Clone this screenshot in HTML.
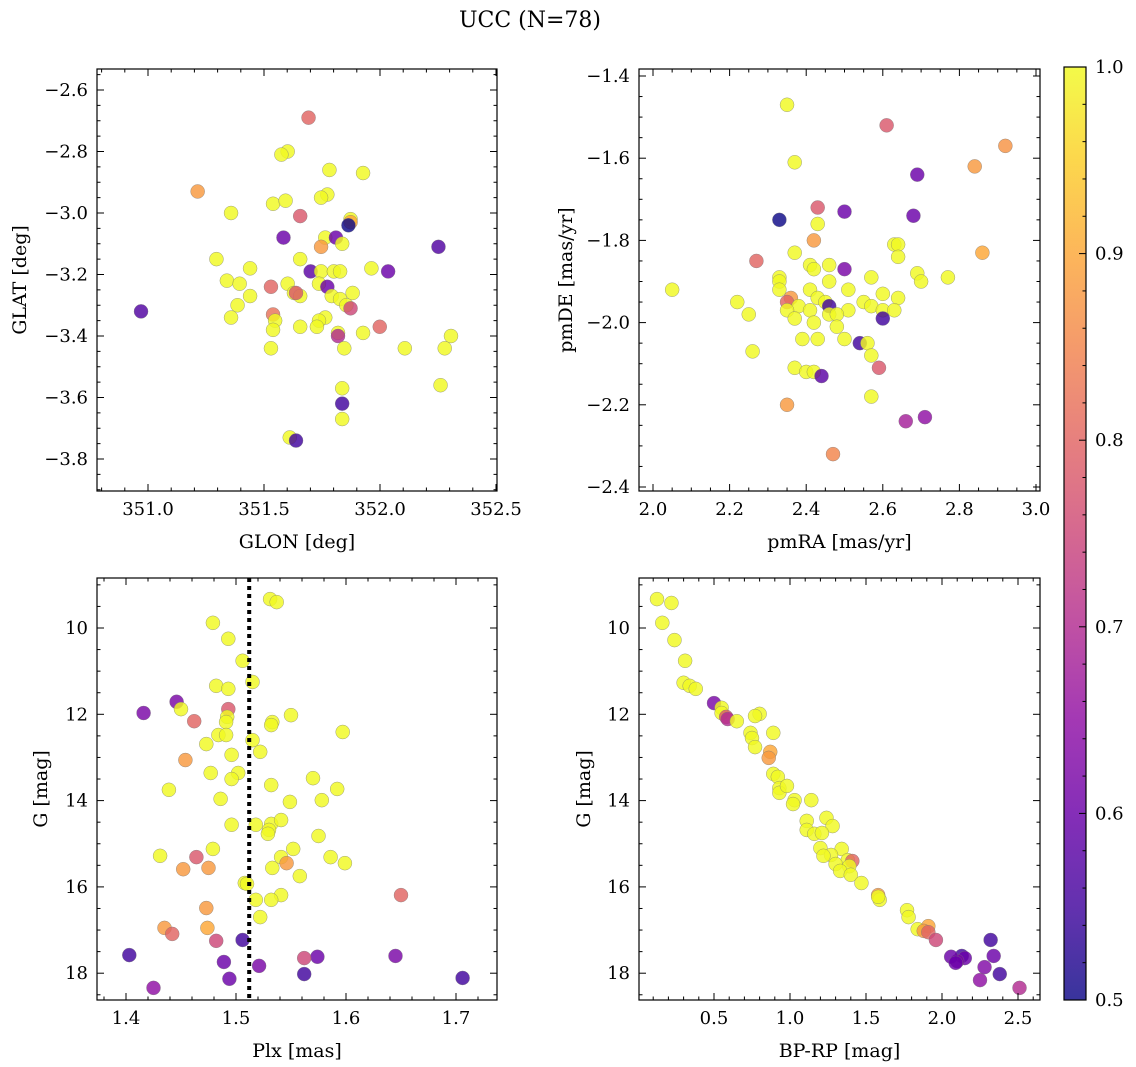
<!DOCTYPE html>
<html><head><meta charset="utf-8">
<style>
html,body{margin:0;padding:0;background:#fff;}
svg{display:block;font-family:"DejaVu Serif","Liberation Serif",serif;}
</style></head>
<body>
<svg id="fig" width="1136" height="1067" viewBox="0 0 1136 1067" xmlns="http://www.w3.org/2000/svg">
<text x="530" y="27" font-size="22" text-anchor="middle">UCC (N=78)</text>
</svg>
<script>
// ---- Panel 1: GLON / GLAT ----
const glon = [351.692,351.214,351.602,351.575,351.782,351.927,351.358,351.539,351.593,351.773,351.746,351.873,351.873,351.864,351.656,351.584,351.764,351.810,351.746,351.837,352.252,351.295,351.656,351.440,351.963,352.035,351.701,351.746,351.801,351.828,351.340,351.395,351.602,351.530,351.737,351.773,351.629,351.882,351.656,351.638,351.792,351.828,351.440,351.386,351.855,351.873,350.970,351.539,351.548,351.358,351.764,351.737,351.728,351.539,351.656,351.819,351.819,351.999,351.927,352.306,351.530,351.846,352.107,352.279,351.837,352.261,351.837,351.837,351.611,351.638];
const glat = [-2.69,-2.93,-2.80,-2.81,-2.86,-2.87,-3.00,-2.97,-2.96,-2.94,-2.95,-3.02,-3.03,-3.04,-3.01,-3.08,-3.08,-3.08,-3.11,-3.10,-3.11,-3.15,-3.15,-3.18,-3.18,-3.19,-3.19,-3.19,-3.19,-3.19,-3.22,-3.23,-3.23,-3.24,-3.23,-3.24,-3.26,-3.26,-3.27,-3.26,-3.27,-3.28,-3.27,-3.30,-3.30,-3.31,-3.32,-3.33,-3.35,-3.34,-3.34,-3.35,-3.37,-3.38,-3.37,-3.39,-3.40,-3.37,-3.39,-3.40,-3.44,-3.44,-3.44,-3.44,-3.57,-3.56,-3.62,-3.67,-3.73,-3.74];
const probPos = [0.8,0.88,1,1,1,1,1,1,1,1,1,1,0.9,0.5,0.78,0.6,1,0.6,0.88,1,0.57,1,1,1,1,0.6,0.58,1,1,1,1,1,1,0.8,1,0.6,1,1,1,0.78,1,1,1,1,1,0.75,0.57,0.82,1,1,1,1,1,1,1,1,0.7,0.8,1,1,1,1,1,1,1,1,0.55,1,1,0.55];
// ---- Panel 2: pmRA / pmDE ----
const pmra = [2.35,2.61,2.92,2.37,2.84,2.69,2.43,2.50,2.68,2.33,2.43,2.42,2.63,2.64,2.37,2.64,2.86,2.27,2.41,2.42,2.46,2.50,2.33,2.33,2.57,2.69,2.70,2.77,2.05,2.33,2.41,2.43,2.45,2.51,2.60,2.46,2.22,2.36,2.35,2.38,2.55,2.64,2.46,2.51,2.41,2.57,2.60,2.63,2.46,2.35,2.25,2.37,2.48,2.60,2.42,2.48,2.39,2.43,2.50,2.54,2.56,2.57,2.26,2.59,2.37,2.40,2.42,2.44,2.57,2.35,2.71,2.66,2.47];
const pmde = [-1.47,-1.52,-1.57,-1.61,-1.62,-1.64,-1.72,-1.73,-1.74,-1.75,-1.76,-1.80,-1.81,-1.81,-1.83,-1.84,-1.83,-1.85,-1.86,-1.87,-1.86,-1.87,-1.89,-1.90,-1.89,-1.88,-1.90,-1.89,-1.92,-1.92,-1.92,-1.94,-1.95,-1.92,-1.93,-1.90,-1.95,-1.94,-1.95,-1.96,-1.95,-1.94,-1.96,-1.97,-1.97,-1.96,-1.97,-1.97,-1.98,-1.97,-1.98,-1.99,-1.98,-1.99,-2.00,-2.01,-2.04,-2.04,-2.04,-2.05,-2.05,-2.08,-2.07,-2.11,-2.11,-2.12,-2.12,-2.13,-2.18,-2.20,-2.23,-2.24,-2.32];
const probPm = [1,0.78,0.87,1,0.88,0.6,0.78,0.6,0.6,0.5,1,0.88,1,1,1,1,0.9,0.8,1,1,1,0.62,1,1,1,1,1,1,1,1,1,1,1,1,1,1,1,0.88,0.8,1,1,1,0.55,1,1,1,1,1,1,1,1,1,1,0.55,1,1,1,1,1,0.55,1,1,1,0.78,1,1,1,0.58,1,0.88,0.65,0.68,0.85];
// ---- Panel 3: Plx / G ----
const plx = [1.531,1.537,1.479,1.493,1.506,1.515,1.482,1.493,1.446,1.450,1.416,1.462,1.493,1.492,1.491,1.550,1.533,1.532,1.597,1.484,1.491,1.473,1.515,1.522,1.496,1.454,1.502,1.477,1.570,1.496,1.532,1.592,1.439,1.486,1.578,1.549,1.496,1.518,1.532,1.541,1.530,1.529,1.575,1.479,1.431,1.552,1.541,1.464,1.586,1.546,1.599,1.452,1.475,1.533,1.558,1.508,1.510,1.541,1.650,1.518,1.532,1.473,1.522,1.435,1.474,1.442,1.482,1.506,1.403,1.574,1.562,1.645,1.489,1.521,1.562,1.494,1.425,1.706];
const gPlx = [9.33,9.40,9.88,10.25,10.76,11.25,11.34,11.41,11.71,11.88,11.97,12.16,11.88,12.06,12.18,12.02,12.18,12.25,12.41,12.48,12.48,12.69,12.60,12.87,12.94,13.06,13.36,13.36,13.48,13.50,13.64,13.73,13.75,13.96,13.99,14.03,14.56,14.56,14.54,14.45,14.68,14.77,14.82,15.12,15.28,15.12,15.31,15.31,15.31,15.45,15.45,15.59,15.56,15.56,15.75,15.91,15.93,16.19,16.19,16.30,16.30,16.49,16.70,16.95,16.95,17.09,17.25,17.23,17.58,17.62,17.65,17.60,17.74,17.83,18.02,18.13,18.34,18.11];
const probPlx = [1,1,1,1,1,1,1,1,0.62,1,0.62,0.8,0.78,1,1,1,1,1,1,1,1,1,1,1,1,0.88,1,1,1,1,1,1,1,1,1,1,1,1,1,1,1,1,1,1,1,1,1,0.78,1,0.88,1,0.88,0.88,1,1,1,1,1,0.8,1,1,0.88,1,0.88,0.9,0.8,0.75,0.55,0.55,0.6,0.75,0.62,0.6,0.62,0.55,0.6,0.65,0.55];
const plxMedian = [1.512];
// ---- Panel 4: BP-RP / G ----
const bprp = [0.125,0.22,0.16,0.24,0.31,0.30,0.34,0.38,0.50,0.55,0.55,0.58,0.59,0.65,0.80,0.77,0.74,0.75,0.89,0.77,0.87,0.86,0.89,0.92,0.93,0.93,0.98,1.03,1.02,1.14,1.24,1.11,1.28,1.11,1.16,1.21,1.20,1.34,1.27,1.22,1.38,1.41,1.30,1.39,1.33,1.40,1.47,1.58,1.59,1.58,1.77,1.78,1.91,1.84,1.88,1.91,1.96,2.13,2.15,2.10,2.06,2.09,2.32,2.34,2.28,2.38,2.25,2.51];
const gCmd = [9.33,9.42,9.88,10.28,10.76,11.27,11.34,11.41,11.74,11.85,11.97,12.06,12.11,12.16,11.99,12.04,12.43,12.55,12.43,12.76,12.87,13.01,13.38,13.45,13.71,13.82,13.66,13.99,14.08,13.99,14.40,14.47,14.59,14.68,14.77,14.75,15.10,15.12,15.26,15.28,15.38,15.40,15.47,15.52,15.63,15.72,15.91,16.19,16.30,16.23,16.54,16.70,16.91,16.98,17.02,17.05,17.23,17.60,17.65,17.72,17.62,17.76,17.23,17.60,17.86,18.02,18.16,18.34];
const probCmd = [1,1,1,1,1,1,1,1,0.62,1,1,0.78,0.7,1,1,1,1,1,1,1,0.9,0.88,1,1,1,1,1,1,1,1,1,1,1,1,1,1,1,1,1,1,1,0.8,1,1,1,1,1,0.88,1,1,1,1,0.9,1,0.88,0.8,0.75,0.55,0.6,0.62,0.6,0.6,0.55,0.6,0.63,0.55,0.65,0.7];
// colorbar ticks
const cbTicks = [0.5,0.6,0.7,0.8,0.9,1.0];

const NS = 'http://www.w3.org/2000/svg';
const svg = document.getElementById('fig');
function mk(tag, attrs, parent){ const e=document.createElementNS(NS,tag); for(const k in attrs) e.setAttribute(k,attrs[k]); (parent||svg).appendChild(e); return e; }
const plasma=[[13,8,135],[65,4,157],[106,0,168],[143,13,164],[177,42,144],[204,71,120],[225,100,98],[242,132,75],[252,166,54],[252,206,37],[240,249,33]];
function cmap(p){ let t=Math.max(0,Math.min(1,(p-0.5)/0.5))*10; let i=Math.min(9,Math.floor(t)); let f=t-i; const a=plasma[i],b=plasma[i+1]; return 'rgb('+a.map((v,k)=>Math.round(v+(b[k]-v)*f)).join(',')+')'; }
function fmt(v,d){ return (v<0?'\u2212':'')+Math.abs(v).toFixed(d); }

function panel(cfg){
  const g=mk('g',{});
  
  
  const {L,T,R,B}=cfg;
  const sx=cfg.sx, sy=cfg.sy;
  const pts=mk('g',{},g);
  
  
  for(let i=0;i<cfg.xs.length;i++){
    const c=mk('circle',{cx:sx(cfg.xs[i]),cy:sy(cfg.ys[i]),r:7,fill:cmap(cfg.ps[i]),'fill-opacity':0.82,stroke:'#777','stroke-width':0.5,'stroke-opacity':0.7},pts);
    
    
  }
  if(cfg.extra) cfg.extra(g,sx,sy);
  const fr=mk('rect',{x:L,y:T,width:R-L,height:B-T,fill:'none',stroke:'#000','stroke-width':1.2},g);
  
  
  const xa=mk('g',{},g);
  
  
  for(let v=cfg.xminor[0]; v<=cfg.xminor[1]+1e-9; v+=cfg.xminor[2]){
    const x=sx(v); if(x<L-0.5||x>R+0.5) continue;
    const isMaj=Math.abs(Math.round(v/cfg.xmaj)*cfg.xmaj-v)<1e-6;
    const len=isMaj?7:3.5;
    mk('line',{x1:x,x2:x,y1:B,y2:B-len,stroke:'#000','stroke-width':1},xa);
    mk('line',{x1:x,x2:x,y1:T,y2:T+len,stroke:'#000','stroke-width':1},xa);
    if(isMaj){ const t=mk('text',{x:x,y:B+24,'font-size':18,'text-anchor':'middle'},xa); t.textContent=fmt(v,cfg.xd);
        }
  }
  for(let v=cfg.yminor[0]; v<=cfg.yminor[1]+1e-9; v+=cfg.yminor[2]){
    const y=sy(v); if(y<T-0.5||y>B+0.5) continue;
    const isMaj=Math.abs(Math.round(v/cfg.ymaj)*cfg.ymaj-v)<1e-6;
    const len=isMaj?7:3.5;
    mk('line',{x1:L,x2:L+len,y1:y,y2:y,stroke:'#000','stroke-width':1},xa);
    mk('line',{x1:R,x2:R-len,y1:y,y2:y,stroke:'#000','stroke-width':1},xa);
    if(isMaj){ const t=mk('text',{x:L-9,y:y+6,'font-size':18,'text-anchor':'end'},xa); t.textContent=fmt(v,cfg.yd);
        }
  }
  const xl=mk('text',{x:(L+R)/2,y:B+57,'font-size':19,'text-anchor':'middle'},g); xl.textContent=cfg.xlabel;
   
  const yl=mk('text',{x:0,y:0,'font-size':19,'text-anchor':'middle',transform:'translate('+cfg.ylx+','+(T+B)/2+') rotate(-90)'},g); yl.textContent=cfg.ylabel;
   
}

const gy = v=>628+(v-10)*43.15;
panel({name:'glon-glat-panel',L:97,T:69,R:497,B:491,sx:v=>148+(v-351)*232,sy:v=>90+(-2.6-v)*307.5,
  xs:glon,ys:glat,ps:probPos,xminor:[350.8,352.6,0.1],xmaj:0.5,xd:1,yminor:[-3.9,-2.5,0.05],ymaj:0.2,yd:1,
  xlabel:'GLON [deg]',ylabel:'GLAT [deg]',ylx:26});
panel({name:'proper-motion-panel',L:639,T:69,R:1040,B:491,sx:v=>653+(v-2)*383,sy:v=>76+(-1.4-v)*411,
  xs:pmra,ys:pmde,ps:probPm,xminor:[1.95,3.05,0.05],xmaj:0.2,xd:1,yminor:[-2.45,-1.35,0.05],ymaj:0.2,yd:1,
  xlabel:'pmRA [mas/yr]',ylabel:'pmDE [mas/yr]',ylx:572});
panel({name:'plx-g-panel',L:97,T:578,R:497,B:1000,sx:v=>126+(v-1.4)*1100,sy:gy,
  xs:plx,ys:gPlx,ps:probPlx,xminor:[1.38,1.72,0.02],xmaj:0.1,xd:1,yminor:[9,18.5,0.5],ymaj:2,yd:0,
  xlabel:'Plx [mas]',ylabel:'G [mag]',ylx:47,
  extra:(g,sx,sy)=>{ const l=mk('line',{x1:sx(plxMedian[0]),x2:sx(plxMedian[0]),y1:578,y2:1000,stroke:'#000','stroke-width':4,'stroke-dasharray':'4,4'},g);
      }});
panel({name:'cmd-panel',L:639,T:578,R:1040,B:1000,sx:v=>714+(v-0.5)*152,sy:gy,
  xs:bprp,ys:gCmd,ps:probCmd,xminor:[0.0,2.7,0.1],xmaj:0.5,xd:1,yminor:[9,18.5,0.5],ymaj:2,yd:0,
  xlabel:'BP-RP [mag]',ylabel:'G [mag]',ylx:590});

(function(){
  const g=mk('g',{});
  
  
  const defs=mk('defs',{},g);
  const lg=mk('linearGradient',{id:'cb',x1:0,y1:1,x2:0,y2:0},defs);
  for(let i=0;i<=20;i++){ mk('stop',{offset:(i/20),'stop-color':cmap(0.5+i/40),'stop-opacity':0.82},lg); }
  const L=1064,R=1086,T=67,B=1000;
  mk('rect',{x:L,y:T,width:R-L,height:B-T,fill:'url(#cb)',stroke:'#000','stroke-width':1.2},g);
  const cy=v=>B-(v-0.5)/0.5*(B-T);
  for(let v=0.5; v<=1.0001; v+=0.02){
    const maj=Math.abs(Math.round(v*10)/10-v)<1e-6;
    mk('line',{x1:R,x2:R-(maj?7:3.5),y1:cy(v),y2:cy(v),stroke:'#000','stroke-width':1},g);
  }
  cbTicks.forEach(v=>{ const t=mk('text',{x:R+9,y:cy(v)+6,'font-size':18},g); t.textContent=v.toFixed(1);
      });
})();
</script>
</body></html>
